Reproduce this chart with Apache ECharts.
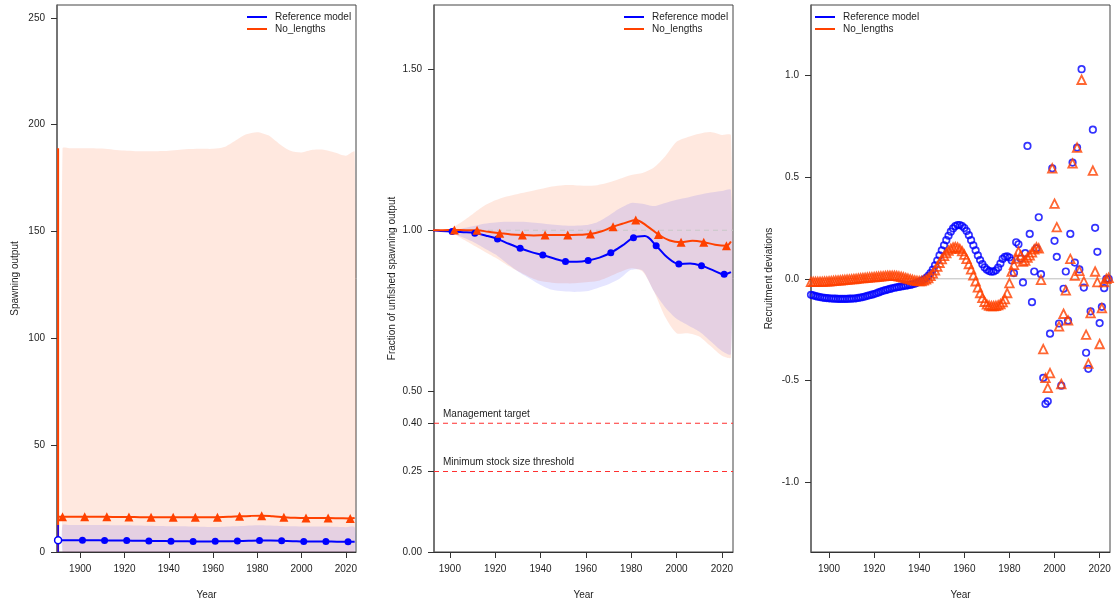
<!DOCTYPE html>
<html><head><meta charset="utf-8">
<script src="https://cdn.jsdelivr.net/npm/echarts@6/dist/echarts.min.js"></script>
<style>html,body{margin:0;padding:0;background:#fff}#c{width:1115px;height:606px}</style>
</head><body><div id="c"></div>
<script>
// ---------- tick labels ----------
const yearTicks = [1900, 1920, 1940, 1960, 1980, 2000, 2020];
const soTicks = [0, 50, 100, 150, 200, 250];
const fracTicks = [0, 0.25, 0.4, 0.5, 1.0, 1.5];
const recTicks = [-1, -0.5, 0, 0.5, 1];
const modelNames = ['Reference model', 'No_lengths'];

// ---------- spawning output & fraction unfished (lines) ----------
const refYears = [1890, 1896, 1901, 1906, 1911, 1916, 1921, 1926, 1931, 1936, 1941, 1946, 1951, 1956, 1961, 1966, 1971, 1976, 1981, 1986, 1991, 1996, 2001, 2006, 2011, 2016, 2021, 2024];
const refSO = [5.5, 5.5, 5.46, 5.45, 5.44, 5.40, 5.35, 5.28, 5.20, 5.13, 5.08, 5.02, 4.97, 4.96, 4.98, 5.03, 5.10, 5.25, 5.37, 5.35, 5.24, 5.08, 4.92, 4.92, 4.90, 4.82, 4.75, 4.78];
const refFrac = [1.0, 0.998, 0.996, 0.994, 0.991, 0.983, 0.973, 0.958, 0.944, 0.932, 0.923, 0.912, 0.903, 0.902, 0.906, 0.915, 0.930, 0.952, 0.977, 0.982, 0.952, 0.915, 0.895, 0.897, 0.890, 0.876, 0.863, 0.870];
const refMarkYears = [1901, 1911, 1921, 1931, 1941, 1951, 1961, 1971, 1981, 1991, 2001, 2011, 2021];

const nolYears = [1890, 1892, 1897, 1902, 1907, 1912, 1917, 1922, 1927, 1932, 1937, 1942, 1947, 1952, 1957, 1962, 1967, 1972, 1977, 1982, 1987, 1992, 1997, 2002, 2007, 2012, 2017, 2022, 2024];
const nolSO = [16.5, 16.5, 16.5, 16.5, 16.48, 16.45, 16.4, 16.35, 16.3, 16.25, 16.25, 16.25, 16.25, 16.25, 16.25, 16.3, 16.45, 16.7, 16.9, 17.0, 16.7, 16.3, 16.0, 15.9, 15.9, 15.9, 15.8, 15.7, 15.9];
const nolFrac = [1.0, 1.0, 1.0, 1.001, 1.0, 1.0, 0.995, 0.991, 0.987, 0.985, 0.984, 0.985, 0.985, 0.985, 0.986, 0.988, 0.997, 1.011, 1.022, 1.032, 1.013, 0.987, 0.968, 0.963, 0.967, 0.963, 0.955, 0.952, 0.965];
const nolMarkYears = [1892, 1902, 1912, 1922, 1932, 1942, 1952, 1962, 1972, 1982, 1992, 2002, 2012, 2022];

// virgin (unfished) interval at the first year
const virginYear = 1890;
const refVirginCI = [0, 12.6];
const nolVirginCI = [0, 189];

// ---------- uncertainty bands ----------
const bandYears = [1892, 1895, 1900, 1905, 1910, 1915, 1920, 1925, 1930, 1935, 1940, 1945, 1950, 1955, 1960, 1965, 1970, 1975, 1980, 1985, 1990, 1995, 2000, 2005, 2010, 2015, 2020, 2024];
const refSOUpper = [12.6, 12.6, 12.6, 12.6, 12.6, 12.5, 12.5, 12.4, 12.3, 12.2, 12.1, 12.0, 11.9, 11.8, 11.7, 11.8, 12.0, 12.3, 12.5, 12.4, 12.2, 12.0, 11.9, 11.9, 11.9, 11.8, 11.6, 11.6];
const nolSOUpper = [189, 189, 189, 189, 188.8, 188.3, 187.9, 187.6, 187.5, 187.6, 187.8, 188.3, 188.6, 188.7, 188.7, 189.5, 192.5, 195.5, 196.5, 195, 191, 187.8, 187, 188.2, 188.3, 187, 185.5, 187.3];
const refFracUpper = [1.0, 1.0, 1.0, 1.005, 1.012, 1.02, 1.024, 1.026, 1.026, 1.025, 1.022, 1.018, 1.015, 1.014, 1.016, 1.025, 1.045, 1.068, 1.085, 1.082, 1.075, 1.085, 1.095, 1.102, 1.11, 1.117, 1.122, 1.125];
const refFracLower = [1.0, 1.0, 0.993, 0.98, 0.965, 0.945, 0.925, 0.898, 0.872, 0.851, 0.83, 0.815, 0.81, 0.808, 0.81, 0.82, 0.832, 0.85, 0.877, 0.875, 0.81, 0.76, 0.725, 0.705, 0.685, 0.655, 0.625, 0.615];
const nolFracUpper = [1.0, 1.0, 1.005, 1.025, 1.05, 1.075, 1.093, 1.105, 1.113, 1.12, 1.128, 1.136, 1.14, 1.14, 1.138, 1.14, 1.148, 1.16, 1.172, 1.178, 1.195, 1.23, 1.275, 1.29, 1.3, 1.305, 1.296, 1.295];
const nolFracLower = [1.0, 1.0, 0.995, 0.975, 0.955, 0.935, 0.915, 0.893, 0.873, 0.855, 0.842, 0.837, 0.835, 0.835, 0.838, 0.842, 0.855, 0.87, 0.882, 0.872, 0.81, 0.73, 0.68, 0.68, 0.67, 0.64, 0.61, 0.605];

// reference levels
const targetLevel = 0.40;
const mssLevel = 0.25;
const unfishedLevel = 1.0;
const recZero = 0;

// ---------- recruitment deviations 1892-2024 ----------
const recFirstYear = 1892, recLastYear = 2024;
const refRecDev = [
  -0.079,-0.082,-0.085,-0.088,-0.090,-0.092,-0.094,-0.095,
  -0.096,-0.097,-0.098,-0.098,-0.099,-0.099,-0.099,-0.099,-0.099,-0.098,
  -0.098,-0.097,-0.096,-0.094,-0.092,-0.090,-0.087,-0.084,-0.081,-0.078,
  -0.075,-0.071,-0.067,-0.063,-0.059,-0.056,-0.053,-0.050,-0.047,-0.044,
  -0.042,-0.040,-0.038,-0.036,-0.034,-0.032,-0.030,-0.027,-0.024,-0.020,
  -0.015,-0.010,-0.004,0.004,0.014,0.028,0.045,0.066,0.090,0.115,
  0.140,0.165,0.190,0.212,0.232,0.248,0.259,0.265,0.265,0.260,
  0.250,0.235,0.215,0.190,0.165,0.140,0.115,0.092,0.072,0.056,
  0.045,0.038,0.035,0.036,0.042,0.055,0.075,0.098,0.108,0.110,
  0.105,0.090,0.028,0.180,0.170,0.100,-0.018,0.126,0.654,0.221,
  -0.115,0.036,0.150,0.303,0.023,-0.488,-0.616,-0.603,-0.270,0.544,
  0.187,0.108,-0.220,-0.526,-0.049,0.036,-0.206,0.221,0.572,0.080,
  0.646,0.046,1.032,-0.043,-0.364,-0.443,-0.160,0.734,0.251,0.133,
  -0.218,-0.138,-0.046,0.000,0.000
];
const nolRecDev = [
  -0.015,-0.015,-0.015,-0.015,-0.014,-0.014,-0.013,-0.013,
  -0.012,-0.011,-0.010,-0.009,-0.008,-0.007,-0.006,-0.005,-0.004,-0.003,
  -0.002,-0.001,0.000,0.002,0.003,0.004,0.005,0.006,0.007,0.008,
  0.009,0.010,0.011,0.012,0.013,0.014,0.015,0.015,0.015,0.015,
  0.014,0.012,0.010,0.007,0.004,0.001,-0.002,-0.005,-0.008,-0.010,
  -0.011,-0.011,-0.008,-0.003,0.004,0.014,0.027,0.042,0.060,0.079,
  0.097,0.113,0.127,0.139,0.148,0.154,0.156,0.154,0.147,0.136,
  0.119,0.098,0.073,0.046,0.017,-0.012,-0.042,-0.070,-0.094,-0.113,
  -0.126,-0.132,-0.134,-0.134,-0.133,-0.130,-0.124,-0.115,-0.100,-0.070,
  -0.021,0.036,0.069,0.100,0.134,0.115,0.085,0.090,0.105,0.115,
  0.130,0.145,0.155,0.150,-0.005,-0.346,-0.488,-0.537,-0.464,0.544,
  0.370,0.254,-0.234,-0.518,-0.172,-0.057,-0.205,0.098,0.568,0.016,
  0.646,0.039,0.980,-0.013,-0.275,-0.418,-0.169,0.533,0.036,-0.016,
  -0.321,-0.144,-0.016,0.000,0.005
];

// ---------- axis ranges ----------
const xRange = [[1889.5, 2024.6], [1893, 2024.9], [1892, 2024.6]];
const yRange = [[0, 256], [0, 1.70], [-1.345, 1.348]];

// ---------- styling ----------
const BLUE = '#0000ff';
const RED = '#ff4100';
const BLUE_BAND = 'rgba(0,0,255,0.10)';
const RED_BAND = 'rgba(255,69,0,0.125)';
const FONT = '"Liberation Sans", Arial, Helvetica, sans-serif';
const TXT = '#1e1e1e';
const REF_LINE = '#ff3030';

const recYears = [];
for (let y = recFirstYear; y <= recLastYear; y++) recYears.push(y);

const zip = (xs, ys) => xs.map((x, i) => [x, ys[i]]);

function modelLine(name, xs, ys, markYears, color, sym, size, hollowFirst, xi) {
  const data = xs.map((x, i) => {
    const item = { value: [x, ys[i]], symbol: 'none' };
    if (markYears.indexOf(x) >= 0) { item.symbol = sym; item.symbolSize = size; }
    if (hollowFirst && i === 0) {
      item.symbol = 'circle'; item.symbolSize = 7;
      item.itemStyle = { color: '#fff', borderColor: color, borderWidth: 1.5 };
    }
    return item;
  });
  return {
    name, type: 'line', xAxisIndex: xi, yAxisIndex: xi, data, smooth: 0.35,
    showSymbol: true, showAllSymbol: true, z: 5,
    lineStyle: { color, width: 2 }, itemStyle: { color },
    emphasis: { disabled: true }, animation: false
  };
}
// a filled band between lower and upper bounds, drawn through the axis scales
function band(xs, lo, hi, color, xi) {
  const last = xs.length - 1;
  return {
    type: 'custom', xAxisIndex: xi, yAxisIndex: xi, clip: true, silent: true, z: 1, animation: false,
    data: xs.map((x, i) => [x, lo[i], hi[i]]),
    encode: { x: 0, y: [1, 2] },
    renderItem: function (params, api) {
      if (params.dataIndex !== last) return null;
      const top = xs.map((x, i) => api.coord([x, hi[i]]));
      const bot = xs.map((x, i) => api.coord([x, lo[i]])).reverse();
      return { type: 'group', children: [
        { type: 'polygon', shape: { points: top.concat(bot), smooth: 0.25 }, style: { fill: color } }
      ] };
    }
  };
}
function vbar(x, ci, color, w, xi) {
  return { type: 'line', xAxisIndex: xi, yAxisIndex: xi, data: [[x, ci[0]], [x, ci[1]]],
    symbol: 'none', lineStyle: { color, width: w }, silent: true, z: 4, animation: false };
}
// horizontal reference level spanning the panel's x range, with optional text above its left end
function hline(y, color, w, dash, xi, text) {
  const first = { value: [xRange[xi][0], y], symbol: 'none' };
  if (text) {
    first.symbol = 'rect'; first.symbolSize = 2;
    first.itemStyle = { color: 'rgba(255,255,255,0)', borderWidth: 0 };
    first.label = { show: true, position: [10, -8], formatter: text, fontSize: 10, color: TXT, fontFamily: FONT, align: 'left', verticalAlign: 'middle', opacity: 1 };
  }
  return { type: 'line', xAxisIndex: xi, yAxisIndex: xi, silent: true, z: 2, animation: false,
    showSymbol: true, showAllSymbol: true, clip: false,
    data: [first, { value: [xRange[xi][1], y], symbol: 'none' }],
    lineStyle: { color, width: w, type: dash }, itemStyle: { color }, emphasis: { disabled: true } };
}

function xAx(gi) {
  return { type: 'value', gridIndex: gi, min: xRange[gi][0], max: xRange[gi][1], name: 'Year', nameLocation: 'middle', nameGap: 38,
    nameTextStyle: { fontSize: 10, color: TXT, fontFamily: FONT },
    axisLine: { show: true, onZero: false, lineStyle: { color: '#333', width: 1 } },
    axisTick: { show: true, length: 6, customValues: yearTicks, lineStyle: { color: '#333' } },
    axisLabel: { customValues: yearTicks, fontSize: 10, color: TXT, fontFamily: FONT, margin: 12, formatter: v => String(v) },
    splitLine: { show: false } };
}
function yAx(gi, ticks, name, fmt) {
  return { type: 'value', gridIndex: gi, min: yRange[gi][0], max: yRange[gi][1], name, nameLocation: 'middle', nameGap: 37,
    nameTextStyle: { fontSize: 10, color: TXT, fontFamily: FONT },
    axisLine: { show: true, onZero: false, lineStyle: { color: '#666', width: 1.5 } },
    axisTick: { show: true, length: 6, customValues: ticks, lineStyle: { color: '#333' } },
    axisLabel: { customValues: ticks, fontSize: 10, color: TXT, fontFamily: FONT, margin: 12, formatter: fmt },
    splitLine: { show: false } };
}
function legendAt(left) {
  return { left, top: 11, orient: 'vertical', padding: 0, itemGap: 0, itemWidth: 20, itemHeight: 2,
    icon: 'rect', selectedMode: false,
    textStyle: { fontSize: 10, color: TXT, fontFamily: FONT, lineHeight: 12, padding: [0, 0, 0, 3] },
    data: [{ name: modelNames[0], itemStyle: { color: BLUE } }, { name: modelNames[1], itemStyle: { color: RED } }] };
}

const gridBase = { top: 5, height: 547, width: 299, show: true, borderColor: '#444', borderWidth: 1, backgroundColor: 'transparent' };

const series = [];
// ---- panel 1: spawning output ----
series.push(band(bandYears, bandYears.map(() => 0), nolSOUpper, RED_BAND, 0));
series.push(band(bandYears, bandYears.map(() => 0), refSOUpper, BLUE_BAND, 0));
series.push(vbar(virginYear, nolVirginCI, RED, 2, 0));
series.push(vbar(virginYear, refVirginCI, BLUE, 1.5, 0));
series.push(modelLine(modelNames[0], refYears, refSO, refMarkYears, BLUE, 'circle', 7, true, 0));
series.push(modelLine(modelNames[1], nolYears, nolSO, nolMarkYears, RED, 'triangle', 9, false, 0));

// ---- panel 2: fraction unfished ----
series.push(band(bandYears, nolFracLower, nolFracUpper, RED_BAND, 1));
series.push(band(bandYears, refFracLower, refFracUpper, BLUE_BAND, 1));
series.push(hline(unfishedLevel, '#c8c8c8', 1.2, [5, 4], 1, null));
series.push(hline(targetLevel, REF_LINE, 1.1, [5, 4], 1, 'Management target'));
series.push(hline(mssLevel, REF_LINE, 1.1, [5, 4], 1, 'Minimum stock size threshold'));
series.push(modelLine(modelNames[0], refYears, refFrac, refMarkYears, BLUE, 'circle', 7, false, 1));
series.push(modelLine(modelNames[1], nolYears, nolFrac, nolMarkYears, RED, 'triangle', 9, false, 1));

// ---- panel 3: recruitment deviations ----
series.push(hline(recZero, '#bdbdbd', 1, 'solid', 2, null));
series.push({ name: modelNames[0], type: 'scatter', xAxisIndex: 2, yAxisIndex: 2, data: zip(recYears, refRecDev),
  symbol: 'circle', symbolSize: 6.5, itemStyle: { color: 'rgba(0,0,0,0)', borderColor: BLUE, borderWidth: 1.7 },
  z: 3, animation: false, emphasis: { disabled: true } });
series.push({ name: modelNames[1], type: 'scatter', xAxisIndex: 2, yAxisIndex: 2, data: zip(recYears, nolRecDev),
  symbol: 'triangle', symbolSize: 8.5, itemStyle: { color: 'rgba(0,0,0,0)', borderColor: RED, borderWidth: 1.8 },
  z: 4, animation: false, emphasis: { disabled: true } });

const option = {
  backgroundColor: '#fff',
  animation: false,
  textStyle: { fontFamily: FONT },
  grid: [Object.assign({ left: 57 }, gridBase), Object.assign({ left: 434 }, gridBase), Object.assign({ left: 811 }, gridBase)],
  xAxis: [xAx(0), xAx(1), xAx(2)],
  yAxis: [
    yAx(0, soTicks, 'Spawning output', v => String(v)),
    yAx(1, fracTicks, 'Fraction of unfished spawning output', v => v.toFixed(2)),
    yAx(2, recTicks, 'Recruitment deviations', v => v.toFixed(1))
  ],
  legend: [legendAt(247), legendAt(624), legendAt(815)],
  series
};
const chart = echarts.init(document.getElementById('c'), null, { renderer: 'canvas' });
chart.setOption(option);
</script></body></html>
